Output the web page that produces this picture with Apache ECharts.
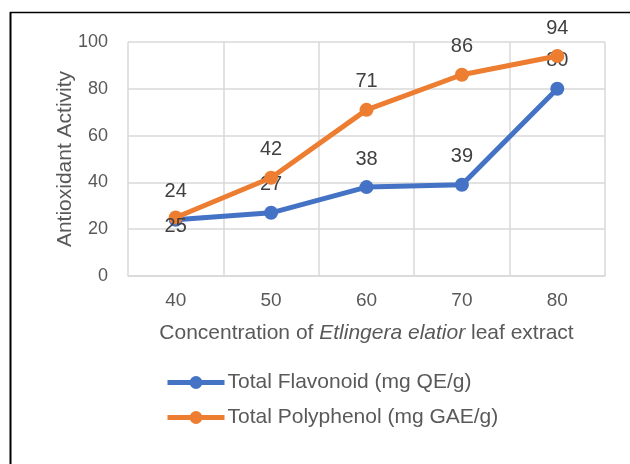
<!DOCTYPE html>
<html>
<head>
<meta charset="utf-8">
<script src="https://cdn.jsdelivr.net/npm/echarts@6/dist/echarts.min.js"></script>
<style>
  html, body { margin: 0; padding: 0; background: #fff; }
  #chart { width: 630px; height: 464px; }
</style>
</head>
<body>
<div id="chart"></div>
<script>
const categories = ['40', '50', '60', '70', '80'];
const flavonoid = [24, 27, 38, 39, 80];
const polyphenol = [25, 42, 71, 86, 94];
const seriesNames = ['Total Flavonoid (mg QE/g)', 'Total Polyphenol (mg GAE/g)'];
const yTicks = { min: 0, max: 100, interval: 20 };

const chart = echarts.init(document.getElementById('chart'));
const FONT = '"Liberation Sans", Arial, sans-serif';

const labelTop = { show: true, position: 'top', distance: 11, fontSize: 20, color: '#404040', fontFamily: FONT };

const polyData = polyphenol.map((v, i) => i === 0
  ? { value: v, label: { position: 'bottom', distance: -8 } }
  : v);

chart.setOption({
  animation: false,
  textStyle: { fontFamily: FONT },
  graphic: [
    { type: 'line', shape: { x1: 10.5, y1: 12, x2: 10.5, y2: 464 }, style: { stroke: '#000', lineWidth: 2 } },
    { type: 'line', shape: { x1: 10, y1: 12.5, x2: 630, y2: 12.5 }, style: { stroke: '#000', lineWidth: 1.5 } }
  ],
  grid: { left: 128, right: 25, top: 42, bottom: 188, containLabel: false },
  legend: {
    orient: 'vertical',
    left: 160,
    top: 367,
    itemWidth: 57,
    itemHeight: 16,
    itemGap: 14,
    lineStyle: { width: 5 },
    textStyle: { fontSize: 21, color: '#595959', fontFamily: FONT, padding: [0, 0, 0, -2] },
    data: seriesNames
  },
  xAxis: {
    type: 'category',
    data: categories,
    boundaryGap: true,
    name: 'Concentration of {i|Etlingera elatior} leaf extract',
    nameLocation: 'middle',
    nameGap: 47,
    nameMoveOverlap: false,
    nameTextStyle: {
      fontSize: 21, color: '#595959', fontFamily: FONT,
      rich: { i: { fontSize: 21, color: '#595959', fontStyle: 'italic', fontFamily: FONT } }
    },
    axisLine: { show: true, lineStyle: { color: '#d9d9d9', width: 1.5 } },
    axisTick: { show: false },
    axisLabel: { fontSize: 19, color: '#595959', margin: 15, fontFamily: FONT },
    splitLine: { show: true, lineStyle: { color: '#d9d9d9', width: 1.5 } }
  },
  yAxis: {
    type: 'value',
    min: yTicks.min, max: yTicks.max, interval: yTicks.interval,
    name: 'Antioxidant Activity',
    nameLocation: 'middle',
    nameGap: 52,
    nameMoveOverlap: false,
    nameTextStyle: { fontSize: 21, color: '#595959', fontFamily: FONT },
    axisLine: { show: false },
    axisTick: { show: false },
    axisLabel: { fontSize: 18, color: '#595959', margin: 20, fontFamily: FONT },
    splitLine: { show: true, lineStyle: { color: '#d9d9d9', width: 1.5 } }
  },
  series: [
    {
      name: seriesNames[0], type: 'line', data: flavonoid,
      symbol: 'circle', symbolSize: 14,
      itemStyle: { color: '#4472C4' },
      lineStyle: { color: '#4472C4', width: 5 },
      label: labelTop, z: 2
    },
    {
      name: seriesNames[1], type: 'line', data: polyData,
      symbol: 'circle', symbolSize: 14,
      itemStyle: { color: '#ED7D31' },
      lineStyle: { color: '#ED7D31', width: 5 },
      label: labelTop, z: 3
    }
  ]
});
</script>
</body>
</html>
